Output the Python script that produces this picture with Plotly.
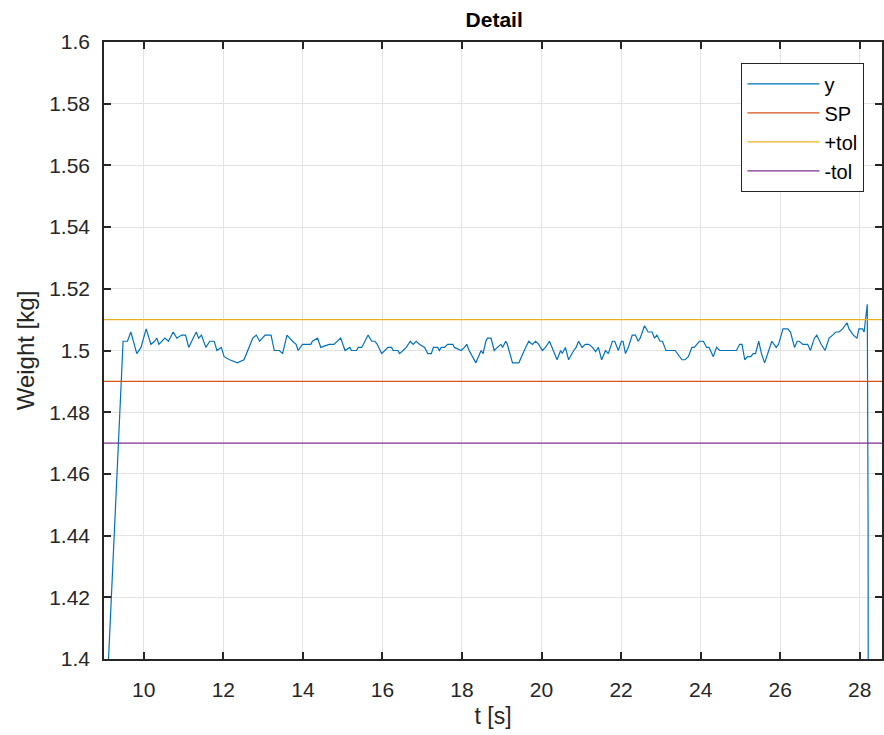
import plotly.graph_objects as go

# ---- data ----
t = [9.00, 9.48, 9.59, 9.675, 9.825, 9.93, 10.06, 10.18, 10.27, 10.33, 10.38, 10.45, 10.53, 10.62,
     10.74, 10.83, 10.95, 11.05, 11.13, 11.24, 11.32, 11.38, 11.45, 11.56, 11.66, 11.77, 11.84,
     11.95, 12.02, 12.16, 12.35, 12.52, 12.74, 12.83, 12.91, 13.05, 13.20, 13.28, 13.41, 13.49,
     13.60, 13.74, 13.83, 13.88, 13.99, 14.20, 14.24, 14.37, 14.45, 14.66, 14.78, 14.95, 15.06,
     15.18, 15.22, 15.35, 15.39, 15.48, 15.64, 15.73, 15.81, 15.87, 15.98, 16.06, 16.14, 16.23,
     16.27, 16.39, 16.43, 16.52, 16.60, 16.70, 16.77, 16.85, 16.93, 17.06, 17.14, 17.23, 17.28,
     17.39, 17.43, 17.48, 17.56, 17.64, 17.77, 17.81, 17.98, 18.06, 18.12, 18.18, 18.27, 18.35,
     18.48, 18.53, 18.60, 18.64, 18.73, 18.81, 18.89, 18.98, 19.02, 19.10, 19.14, 19.27, 19.43,
     19.52, 19.60, 19.68, 19.77, 19.85, 19.93, 20.02, 20.10, 20.20, 20.27, 20.39, 20.48, 20.52,
     20.60, 20.68, 20.81, 20.87, 20.93, 21.02, 21.10, 21.19, 21.28, 21.36, 21.43, 21.51, 21.61,
     21.68, 21.78, 21.84, 21.93, 22.01, 22.05, 22.11, 22.18, 22.28, 22.36, 22.43, 22.48, 22.59,
     22.68, 22.78, 22.84, 22.90, 22.98, 23.04, 23.13, 23.36, 23.53, 23.61, 23.69, 23.78, 23.84,
     23.90, 23.97, 24.07, 24.15, 24.21, 24.32, 24.40, 24.48, 24.90, 24.98, 25.04, 25.11, 25.18,
     25.26, 25.32, 25.38, 25.46, 25.53, 25.61, 25.73, 25.79, 25.90, 25.96, 26.07, 26.19, 26.26,
     26.36, 26.43, 26.48, 26.57, 26.69, 26.76, 26.86, 26.92, 27.03, 27.13, 27.23, 27.32, 27.40,
     27.48, 27.57, 27.68, 27.73, 27.84, 27.93, 27.98, 28.07, 28.11, 28.19, 28.21, 28.24]

y = [1.368, 1.503, 1.503, 1.506, 1.499, 1.501, 1.507, 1.502, 1.503, 1.504, 1.502, 1.503, 1.504, 1.503,
     1.506, 1.504, 1.505, 1.505, 1.501, 1.504, 1.506, 1.504, 1.505, 1.501, 1.503, 1.503, 1.500,
     1.501, 1.498, 1.497, 1.496, 1.497, 1.504, 1.505, 1.503, 1.505, 1.505, 1.500, 1.500, 1.499,
     1.505, 1.503, 1.502, 1.500, 1.502, 1.502, 1.503, 1.504, 1.501, 1.502, 1.502, 1.504, 1.500,
     1.501, 1.500, 1.500, 1.501, 1.501, 1.505, 1.503, 1.503, 1.502, 1.499, 1.500, 1.501, 1.501,
     1.500, 1.500, 1.499, 1.500, 1.501, 1.503, 1.502, 1.503, 1.502, 1.501, 1.499, 1.499, 1.501,
     1.501, 1.500, 1.501, 1.501, 1.502, 1.502, 1.501, 1.500, 1.501, 1.502, 1.500, 1.498, 1.496,
     1.500, 1.499, 1.503, 1.504, 1.504, 1.500, 1.501, 1.502, 1.501, 1.503, 1.502, 1.496, 1.496,
     1.499, 1.501, 1.503, 1.502, 1.503, 1.502, 1.500, 1.501, 1.503, 1.501, 1.497, 1.500, 1.499,
     1.501, 1.497, 1.500, 1.501, 1.503, 1.501, 1.502, 1.502, 1.501, 1.4996, 1.501, 1.497, 1.500,
     1.499, 1.503, 1.503, 1.500, 1.503, 1.503, 1.499, 1.501, 1.505, 1.505, 1.503, 1.504, 1.508,
     1.506, 1.506, 1.504, 1.505, 1.503, 1.503, 1.500, 1.500, 1.497, 1.497, 1.498, 1.501, 1.501,
     1.502, 1.503, 1.503, 1.501, 1.501, 1.498, 1.501, 1.500, 1.500, 1.502, 1.502, 1.497, 1.498,
     1.498, 1.499, 1.499, 1.503, 1.499, 1.496, 1.501, 1.503, 1.501, 1.502, 1.507, 1.507, 1.506,
     1.501, 1.503, 1.503, 1.502, 1.502, 1.500, 1.504, 1.505, 1.502, 1.500, 1.504, 1.505, 1.506,
     1.506, 1.507, 1.509, 1.507, 1.505, 1.504, 1.507, 1.507, 1.506, 1.515, 1.4445, 1.0]

setpoint = 1.49
tol_plus = 1.51
tol_minus = 1.47
x_limits = [9.0, 28.56]
y_limits = [1.4, 1.6]
x_ticks = [10, 12, 14, 16, 18, 20, 22, 24, 26, 28]
y_ticks = [1.4, 1.42, 1.44, 1.46, 1.48, 1.5, 1.52, 1.54, 1.56, 1.58, 1.6]
y_tick_text = ["1.4", "1.42", "1.44", "1.46", "1.48", "1.5", "1.52", "1.54", "1.56", "1.58", "1.6"]

FONT = "Liberation Sans, Arial, sans-serif"
AX = "#262626"

fig = go.Figure()
fig.add_trace(go.Scatter(x=t, y=y, mode="lines", name="y",
                         line=dict(color="#0072BD", width=1.2)))
fig.add_trace(go.Scatter(x=x_limits, y=[setpoint, setpoint], mode="lines", name="SP",
                         line=dict(color="#D95319", width=1.2)))
fig.add_trace(go.Scatter(x=x_limits, y=[tol_plus, tol_plus], mode="lines", name="+tol",
                         line=dict(color="#EDB120", width=1.2)))
fig.add_trace(go.Scatter(x=x_limits, y=[tol_minus, tol_minus], mode="lines", name="-tol",
                         line=dict(color="#7E2F8E", width=1.2)))

fig.update_layout(
    width=884, height=735,
    margin=dict(l=104, r=0, t=42, b=76),
    paper_bgcolor="white", plot_bgcolor="white",
    font=dict(family=FONT, size=21, color=AX),
    title=dict(text="<b>Detail</b>", x=0.559, xanchor="center", y=0.973, yanchor="middle",
               font=dict(family=FONT, size=21, color="#000000")),
    showlegend=True,
    legend=dict(x=0.977, xanchor="right", y=0.966, yanchor="top",
                bgcolor="white", bordercolor=AX, borderwidth=1.3,
                font=dict(family=FONT, size=20, color="#000000"),
                tracegroupgap=0, itemwidth=72),
)
fig.update_xaxes(
    range=x_limits, tickvals=x_ticks, ticks="inside", ticklen=7, tickwidth=2, tickcolor=AX,
    showline=True, linecolor=AX, linewidth=2, mirror="ticks",
    showgrid=True, gridcolor="#e3e3e3", gridwidth=1, zeroline=False,
    title=dict(text="t [s]", standoff=8, font=dict(size=23, color=AX)),
    tickfont=dict(size=21, color=AX), ticklabelstandoff=11,
)
fig.update_yaxes(
    range=y_limits, tickvals=y_ticks, ticktext=y_tick_text, ticks="inside", ticklen=7,
    tickwidth=2, tickcolor=AX,
    showline=True, linecolor=AX, linewidth=1.5, mirror="ticks",
    showgrid=True, gridcolor="#e3e3e3", gridwidth=1, zeroline=False,
    title=dict(text="Weight [kg]", standoff=8, font=dict(size=24, color=AX)),
    tickfont=dict(size=21, color=AX), ticklabelstandoff=8,
)

fig.write_html("out.html")
